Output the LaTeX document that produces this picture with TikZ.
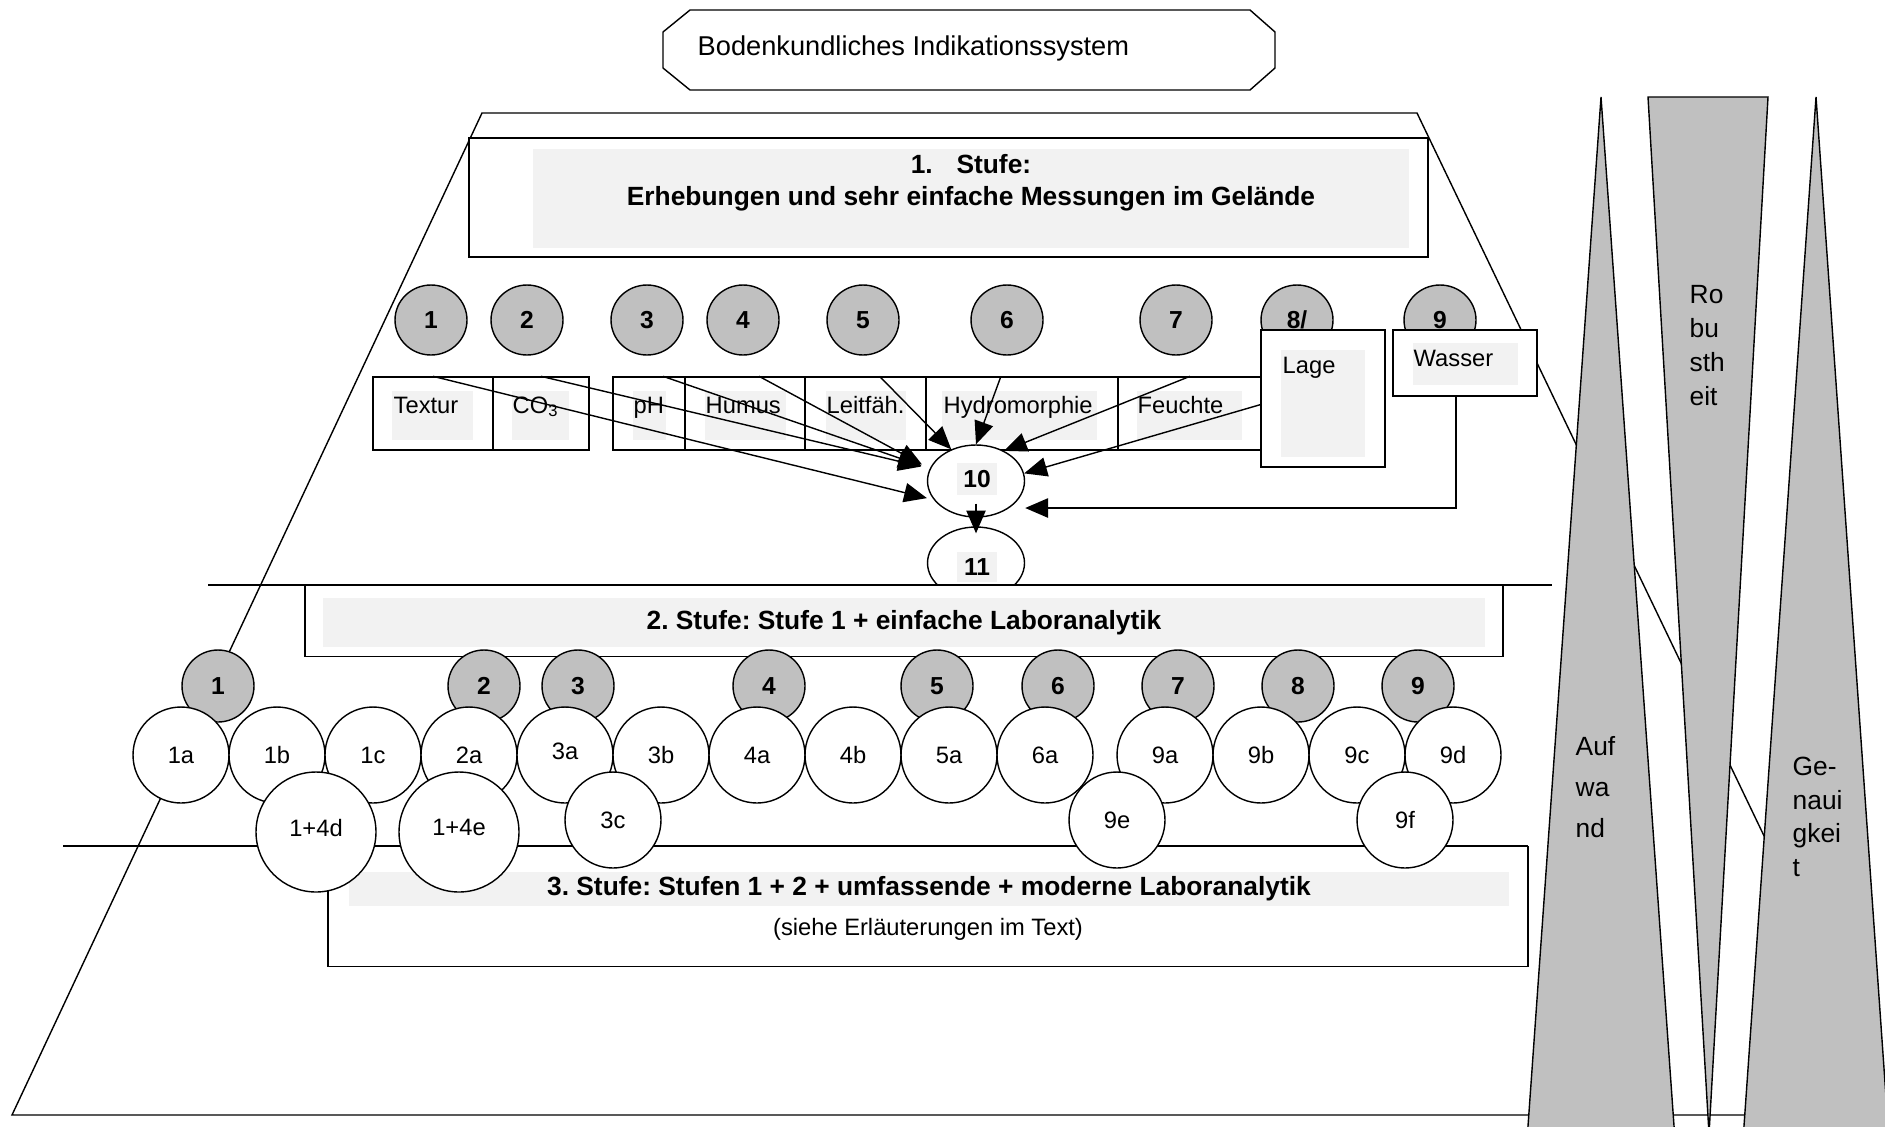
\documentclass[tikz,border=0pt]{standalone}
\usepackage{fontspec}
\setmainfont{Liberation Sans}
\usetikzlibrary{shapes.geometric,arrows.meta}
\definecolor{hellgrau}{HTML}{F2F2F2}
\definecolor{mittelgrau}{HTML}{C0C0C0}
\frenchspacing
\tikzset{
  txt/.style={font=\fontsize{13.5}{16}\selectfont, inner sep=0pt},
  fett/.style={font=\fontsize{15}{18}\selectfont\bfseries, inner sep=0pt},
  nummer/.style={ellipse, draw, fill=mittelgrau, minimum width=1.44cm, minimum height=1.4cm, inner sep=0pt, font=\fontsize{14}{16}\selectfont\bfseries},
  blase/.style={ellipse, draw, fill=white, minimum width=1.92cm, minimum height=1.92cm, inner sep=0pt, font=\fontsize{13.5}{16}\selectfont},
  grossblase/.style={blase, minimum width=2.4cm, minimum height=2.4cm},
  feld/.style={draw, fill=white, minimum height=1.46cm, inner sep=0pt},
  zahl/.style={fill=hellgrau, inner sep=0pt, minimum width=0.8cm, minimum height=0.64cm, font=\fontsize{14}{16}\selectfont\bfseries},
  pfeil/.style={-{Triangle[length=13pt,width=11pt]}},
  keil/.style={draw, fill=mittelgrau},
}
\begin{document}
\begin{tikzpicture}[x=0.02cm, y=-0.02cm, line width=0.8pt]
\useasboundingbox (0,0) rectangle (1885,1126);

% Pyramide
\draw (482,113) -- (1417,113) -- (1898,1115) -- (12,1115) -- cycle;

% Titel
\draw (690,10) -- (1250,10) -- (1275,32) -- (1275,68) -- (1250,90) -- (690,90) -- (663,68) -- (663,32) -- cycle;
\node[txt, font=\fontsize{15.5}{18}\selectfont, anchor=base west] (titel) at (697,55) {Bodenkundliches Indikationssystem};

% Stufe 1
\node[draw, fill=white, minimum width=19.18cm, minimum height=2.38cm, inner sep=0pt] (stufe1) at (948.5,197.5) {};
\node[fill=hellgrau, minimum width=17.52cm, minimum height=1.98cm, inner sep=0pt] (stufe1grau) at (971,198.5) {};
\node[fett, align=center, font=\fontsize{15}{18.2}\selectfont\bfseries] (stufe1txt) at (971,183) {1.\hspace{0.9em}Stufe:\\Erhebungen und sehr einfache Messungen im Gelände};

% Kennwerte
\node[nummer] (n1) at (431,320) {1};
\node[nummer] (n2) at (527,320) {2};
\node[nummer] (n3) at (647,320) {3};
\node[nummer] (n4) at (743,320) {4};
\node[nummer] (n5) at (863,320) {5};
\node[nummer] (n6) at (1007,320) {6};
\node[nummer] (n7) at (1176,320) {7};
\node[nummer] (n8) at (1297,320) {8/};
\node[nummer] (n9) at (1440,320) {9};

\node[feld, minimum width=2.4cm] (textur) at (433,413.5) {};
\node[feld, minimum width=1.92cm] (co2) at (541,413.5) {};
\node[feld, minimum width=1.44cm] (ph) at (649,413.5) {};
\node[feld, minimum width=2.4cm] (humus) at (745,413.5) {};
\node[feld, minimum width=2.42cm] (leit) at (865.5,413.5) {};
\node[feld, minimum width=3.84cm] (hydro) at (1022,413.5) {};
\node[feld, minimum width=2.88cm] (feuchte) at (1190,413.5) {};

\fill[hellgrau] (392,391) rectangle (473,440);
\fill[hellgrau] (512,391) rectangle (569,440);
\fill[hellgrau] (633,391) rectangle (666,440);
\fill[hellgrau] (705,391) rectangle (786,440);
\fill[hellgrau] (826,391) rectangle (906,440);
\fill[hellgrau] (942,391) rectangle (1097,440);
\fill[hellgrau] (1137,391) rectangle (1242,440);
\node[txt, anchor=base west] (texturtxt) at (393,413) {Textur};
\node[txt, anchor=base west] (co2txt) at (512,413) {CO\textsubscript{3}};
\node[txt, anchor=base west] (phtxt) at (633,413) {pH};
\node[txt, anchor=base west] (humustxt) at (705,413) {Humus};
\node[txt, anchor=base west] (leittxt) at (826,413) {Leitfäh.};
\node[txt, anchor=base west] (hydrotxt) at (943,413) {Hydromorphie};
\node[txt, anchor=base west] (feuchtetxt) at (1137,413) {Feuchte};

\node[feld, minimum width=2.48cm, minimum height=2.74cm] (lage) at (1323,398.5) {};
\fill[hellgrau] (1281,350) rectangle (1365,457);
\node[txt, anchor=base west] (lagetxt) at (1282,373) {Lage};
\node[feld, minimum width=2.88cm, minimum height=1.32cm] (wasser) at (1465,363) {};
\fill[hellgrau] (1413,343) rectangle (1518,385);
\node[txt, anchor=base west] (wassertxt) at (1413,366) {Wasser};

% Verknuepfung
\node[ellipse, draw, fill=white, minimum width=1.94cm, minimum height=1.44cm, inner sep=0pt] (e10) at (976,481) {};
\node[zahl] (t10) at (977,479) {10};
\node[ellipse, draw, fill=white, minimum width=1.94cm, minimum height=1.44cm, inner sep=0pt] (e11) at (976,563) {};
\node[zahl, minimum height=0.6cm] (t11) at (977,567) {11};

\draw[pfeil, shorten >=4pt] (textur.north) -- (e10.204);
\draw[pfeil, shorten >=5pt] (co2.north) -- (e10.165);
\draw[pfeil, shorten >=5pt] ([xshift=8pt]ph.north) -- (e10.165);
\draw[pfeil, shorten >=5pt] ([xshift=8pt]humus.north) -- (e10.165);
\draw[pfeil] ([xshift=8pt]leit.north) -- (e10.128);
\draw[pfeil] ([xshift=-12pt]hydro.north) -- (e10.north);
\draw[pfeil] (feuchte.north) -- (e10.47);
\draw[pfeil] ([yshift=-3.5pt]lage.west) -- (e10.9);
\coordinate (knick) at (1456,508);
\draw[pfeil] (wasser.south -| knick) -- (knick) -- (e10.east |- knick);
\draw[pfeil] ([yshift=8pt]e10.south) -- ([yshift=-4pt]e11.north);

% Stufe 2
\coordinate (s2links) at (208,585);
\coordinate (s2rechts) at (1552,585);
\draw (s2links) -- (s2rechts);
\node[draw, fill=white, minimum width=23.96cm, minimum height=1.42cm, inner sep=0pt, anchor=north] (stufe2) at (904,585) {};
\node[fett, fill=hellgrau, minimum width=23.24cm, minimum height=0.98cm] (stufe2txt) at (904,622.5) {2. Stufe: Stufe 1 + einfache Laboranalytik};

% Stufe 3
\coordinate (s3links) at (63,846);
\coordinate (s3rechts) at (1528,846);
\draw (s3links) -- (s3rechts);
\node[draw, fill=white, minimum width=24cm, minimum height=2.4cm, inner sep=0pt, anchor=north] (stufe3) at (928,846) {};
\node[fett, fill=hellgrau, minimum width=23.2cm, minimum height=0.68cm] (stufe3txt) at (929,889) {3. Stufe: Stufen 1 + 2 + umfassende + moderne Laboranalytik};
\node[txt] (stufe3hinweis) at (928,929) {(siehe Erläuterungen im Text)};

% Methoden
\node[nummer, minimum height=1.44cm] (m1) at (218,686) {\raisebox{-4pt}{1}};
\node[nummer, minimum height=1.44cm] (m2) at (484,686) {\raisebox{-4pt}{2}};
\node[nummer, minimum height=1.44cm] (m3) at (578,686) {\raisebox{-4pt}{3}};
\node[nummer, minimum height=1.44cm] (m4) at (769,686) {\raisebox{-4pt}{4}};
\node[nummer, minimum height=1.44cm] (m5) at (937,686) {\raisebox{-4pt}{5}};
\node[nummer, minimum height=1.44cm] (m6) at (1058,686) {\raisebox{-4pt}{6}};
\node[nummer, minimum height=1.44cm] (m7) at (1178,686) {\raisebox{-4pt}{7}};
\node[nummer, minimum height=1.44cm] (m8) at (1298,686) {\raisebox{-4pt}{8}};
\node[nummer, minimum height=1.44cm] (m9) at (1418,686) {\raisebox{-4pt}{9}};

\node[blase] (k1a) at (181,755) {1a};
\node[blase] (k1b) at (277,755) {1b};
\node[blase] (k1c) at (373,755) {1c};
\node[blase] (k2a) at (469,755) {2a};
\node[blase] (k3a) at (565,755) {\raisebox{4pt}{3a}};
\node[blase] (k3b) at (661,755) {3b};
\node[blase] (k4a) at (757,755) {4a};
\node[blase] (k4b) at (853,755) {4b};
\node[blase] (k5a) at (949,755) {5a};
\node[blase] (k6a) at (1045,755) {6a};
\node[blase] (k9a) at (1165,755) {9a};
\node[blase] (k9b) at (1261,755) {9b};
\node[blase] (k9c) at (1357,755) {9c};
\node[blase] (k9d) at (1453,755) {9d};

\node[grossblase] (k14d) at (316,832) {\raisebox{5pt}{1+4d}};
\node[grossblase] (k14e) at (459,832) {\raisebox{5pt}{1+4e}};
\node[blase] (k3c) at (613,820) {3c};
\node[blase] (k9e) at (1117,820) {9e};
\node[blase] (k9f) at (1405,820) {9f};

% Keile
\draw[keil] (1601,97) -- (1675,1140) -- (1527,1140) -- cycle;
\draw[keil] (1648,97) -- (1768,97) -- (1709,1134) -- cycle;
\draw[keil] (1816,97) -- (1889,1140) -- (1743,1140) -- cycle;
\node[txt, font=\fontsize{15}{19.3}\selectfont, align=left, anchor=north west] (robust) at (1689,285) {Ro\\bu\\sth\\eit};
\node[txt, font=\fontsize{15}{23.3}\selectfont, align=left, anchor=north west] (aufwand) at (1575,736) {Auf\\wa\\nd};
\node[txt, font=\fontsize{15}{19.3}\selectfont, align=left, anchor=north west] (genau) at (1792,756) {Ge-\\naui\\gkei\\t};
\end{tikzpicture}
\end{document}
